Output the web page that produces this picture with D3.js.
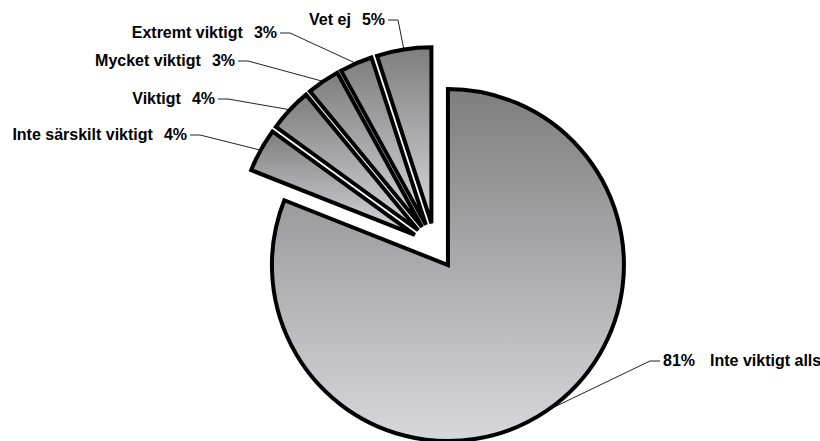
<!DOCTYPE html>
<html><head><meta charset="utf-8">
<script src="https://cdn.jsdelivr.net/npm/d3@7"></script>
<style>body{margin:0;background:#fff}svg{display:block}</style>
</head><body>
<svg id="chart" width="820" height="441"></svg>
<script>
const categories = ["Inte viktigt alls","Inte särskilt viktigt","Viktigt","Mycket viktigt","Extremt viktigt","Vet ej"];
const values = [81,4,4,3,3,5];
const valueLabels = ["81%","4%","4%","3%","3%","5%"];
// annotation layout: leader-line knee for each label, and the side the text sits on
const labelKnees = [[650,361],[200,135],[228,99],[248,61],[290,33],[398,20]];
const labelSide = ["right","left","left","left","left","left"];

const cx = 435, cy = 246, R = 176, explode = 23;
const svg = d3.select("#chart");
const defs = svg.append("defs");
const grad = defs.append("linearGradient").attr("id","sliceGrad")
  .attr("x1",0).attr("y1",0).attr("x2",0).attr("y2",1);
grad.append("stop").attr("offset","0%").attr("stop-color","#7e7e7e");
grad.append("stop").attr("offset","100%").attr("stop-color","#d8d8dc");

const pieData = d3.pie().sort(null).value(d => d)(values);
const arc = d3.arc().innerRadius(0).outerRadius(R);
function off(d){ const a=(d.startAngle+d.endAngle)/2; return [Math.sin(a)*explode, -Math.cos(a)*explode]; }
function rimPoint(d){ const a=(d.startAngle+d.endAngle)/2; const o=off(d);
  return [cx+o[0]+Math.sin(a)*R, cy+o[1]-Math.cos(a)*R]; }

const h = 10;
// leader lines (under slices)
svg.append("g").selectAll("path").data(pieData).join("path")
  .attr("fill","none").attr("stroke","#222").attr("stroke-width",1)
  .attr("d",(d,i)=>{ const k=labelKnees[i]; const s=labelSide[i]==="left"?-1:1; const p=rimPoint(d);
    return `M${k[0]+s*h},${k[1]}L${k[0]},${k[1]}L${p[0]},${p[1]}`; });

// slices
svg.append("g").selectAll("path").data(pieData).join("path")
  .attr("transform", d => { const o=off(d); return `translate(${cx+o[0]},${cy+o[1]})`; })
  .attr("d", arc)
  .attr("fill","url(#sliceGrad)")
  .attr("stroke","#000").attr("stroke-width",4).attr("stroke-linejoin","miter");

// labels
const lab = svg.append("g").attr("font-family","'Liberation Sans', Arial, sans-serif")
  .attr("font-weight","bold").attr("font-size","16px").attr("fill","#000");
pieData.forEach((d,i)=>{
  const k=labelKnees[i];
  if(labelSide[i]==="left"){
    const t=lab.append("text").attr("x",k[0]-h-3).attr("y",k[1]+5).attr("text-anchor","end");
    t.append("tspan").text(categories[i]);
    t.append("tspan").attr("dx",11).text(valueLabels[i]);
  } else {
    const t=lab.append("text").attr("x",k[0]+h+3).attr("y",k[1]+5).attr("text-anchor","start");
    t.append("tspan").text(valueLabels[i]);
    t.append("tspan").attr("dx",15).text(categories[i]);
  }
});
</script>
</body></html>
